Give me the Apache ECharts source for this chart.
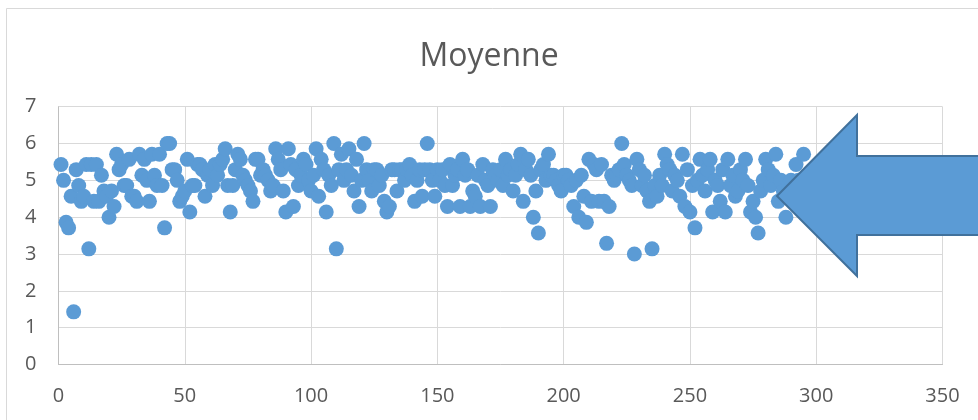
<!DOCTYPE html>
<html>
<head>
<meta charset="utf-8">
<script src="https://cdn.jsdelivr.net/npm/echarts@6/dist/echarts.min.js"></script>
<style>
html,body{margin:0;padding:0;background:#fff;}
#chart{width:978px;height:420px;}
</style>
</head>
<body>
<div id="chart"></div>
<script>
// Chart title and axis ticks
const titleText = "Moyenne";
const xTicks = { min: 0, max: 350, step: 50 };
const yTicks = { min: 0, max: 7, step: 1 };

// "Moyenne" values, one per observation (observation number = position, starting at 1)
const valuesA = [
  5.43, 5.00, 3.86, 3.71, 4.57, 1.43, 5.29, 4.86, 4.43, 4.57,
  5.43, 3.14, 5.43, 4.43, 5.43, 4.43, 5.14, 4.71, 4.57, 4.00,
  4.71, 4.29, 5.71, 5.29, 5.43, 4.86, 4.86, 5.57, 4.57, 4.57,
  4.43, 5.71, 5.14, 5.57, 5.00, 4.43, 5.71, 5.14, 4.86, 5.71,
  4.86, 3.71, 6.00, 6.00, 5.29, 5.29, 5.00, 4.43, 4.57, 4.71,
  5.57, 4.14, 4.86, 4.86, 5.43, 5.43, 5.29, 4.57, 5.14, 5.29,
  4.86, 5.43, 5.14, 5.43, 5.57, 5.86, 4.86, 4.14, 4.86, 5.29,
  5.71, 5.57, 5.14, 5.00, 4.86, 4.71, 4.43, 5.57, 5.57, 5.14
];
const valuesB = [
  5.29, 5.14, 5.00, 4.71, 4.86, 5.86, 5.57, 5.29, 4.71, 4.14,
  5.86, 5.43, 4.29, 5.29, 4.86, 5.14, 5.57, 5.43, 5.00, 4.71,
  5.14, 5.86, 4.57, 5.57, 5.29, 4.14, 5.14, 4.86, 6.00, 3.14,
  5.29, 5.71, 5.00, 5.29, 5.86, 5.14, 4.71, 5.57, 4.29, 5.00,
  6.00, 5.29, 5.00, 4.71, 5.29, 5.29, 4.86, 5.14, 4.43, 4.14,
  4.29, 5.29, 5.29, 4.71, 5.29, 5.29, 5.00, 5.29, 5.43, 5.14,
  4.43, 5.00, 5.29, 4.57, 5.29, 6.00, 5.29, 5.00, 4.57, 5.29
];
const valuesC = [
  5.00, 5.29, 4.86, 4.29, 5.43, 4.86, 5.14, 5.29, 4.29, 5.57,
  5.14, 5.29, 4.29, 4.71, 4.57, 5.14, 4.29, 5.43, 5.00, 4.86,
  4.29, 5.29, 5.14, 5.00, 5.29, 4.86, 5.57, 5.14, 5.29, 4.71,
  5.14, 5.43, 5.71, 4.43, 5.29, 5.57, 5.14, 4.00, 4.71, 3.57,
  5.29, 5.43, 5.00, 5.71, 5.14, 5.14, 5.00, 4.86, 4.71, 5.14,
  5.14, 5.00, 4.86, 4.29, 5.00, 4.00, 5.14, 4.57, 3.86, 5.57,
  4.43, 5.43, 5.29, 4.43, 5.43, 4.43, 3.29, 4.29, 5.14, 5.00
];
const valuesD = [
  5.14, 5.29, 6.00, 5.43, 5.14, 5.00, 4.86, 3.00, 5.57, 5.29,
  4.86, 5.14, 4.71, 4.43, 3.14, 4.86, 4.57, 5.14, 4.86, 5.71,
  5.43, 5.29, 4.71, 5.14, 5.00, 4.57, 5.71, 4.29, 5.29, 4.14,
  4.86, 3.71, 5.00, 5.57, 5.14, 4.71, 5.29, 5.57, 4.14, 5.00,
  4.86, 4.43, 5.29, 4.14, 5.57, 4.86, 5.14, 4.57, 4.71, 5.29,
  5.00, 5.57, 4.86, 4.14, 4.43, 4.00, 3.57, 4.71, 5.00, 5.57,
  5.29, 4.86, 5.14, 5.71, 4.43, 5.00, 4.71, 4.00, 4.86, 5.00,
  4.71, 5.43, 5.00, 5.00, 5.71, 4.71, 4.86, 4.71, 4.86, 4.71
];

const allValues = valuesA.concat(valuesB, valuesC, valuesD);
const points = allValues.map((v, i) => [i + 1, v]);

const chart = echarts.init(document.getElementById('chart'), null, { renderer: 'canvas' });
const FONT = '"Open Sans", "Liberation Sans", sans-serif';

chart.setOption({
  backgroundColor: '#ffffff',
  animation: false,
  title: {
    text: titleText,
    left: 'center',
    top: 36,
    textStyle: { fontFamily: FONT, fontSize: 32, fontWeight: 'normal', color: '#595959' }
  },
  grid: { left: 58.5, right: 35.5, top: 106.7, bottom: 55.5 },
  xAxis: {
    type: 'value',
    min: xTicks.min, max: xTicks.max, interval: xTicks.step,
    axisLine: { show: true, onZero: false, lineStyle: { color: '#BFBFBF', width: 1 } },
    axisTick: { show: false },
    splitLine: { show: true, lineStyle: { color: '#D9D9D9', width: 1 } },
    axisLabel: { fontFamily: FONT, fontSize: 20, color: '#595959', margin: 22 }
  },
  yAxis: {
    type: 'value',
    min: yTicks.min, max: yTicks.max, interval: yTicks.step,
    axisLine: { show: true, onZero: false, lineStyle: { color: '#BFBFBF', width: 1 } },
    axisTick: { show: false },
    splitLine: { show: true, lineStyle: { color: '#D9D9D9', width: 1 } },
    axisLabel: { fontFamily: FONT, fontSize: 20, color: '#595959', margin: 22 }
  },
  series: [{
    type: 'scatter',
    data: points,
    symbol: 'circle',
    symbolSize: 15,
    itemStyle: { color: '#5B9BD5', opacity: 1 },
    z: 2
  }],
  graphic: [
    {
      type: 'rect',
      z: -10,
      silent: true,
      shape: { x: 6.5, y: 8.5, width: 1000, height: 1000 },
      style: { fill: 'none', stroke: '#D9D9D9', lineWidth: 1 }
    },
    {
      type: 'polygon',
      z: 100,
      silent: true,
      shape: {
        points: [[777, 196], [857, 115], [857, 156], [990, 156], [990, 235], [857, 235], [857, 276]]
      },
      style: { fill: '#5B9BD5', stroke: '#41719C', lineWidth: 2, lineJoin: 'miter' }
    }
  ]
});
</script>
</body>
</html>
